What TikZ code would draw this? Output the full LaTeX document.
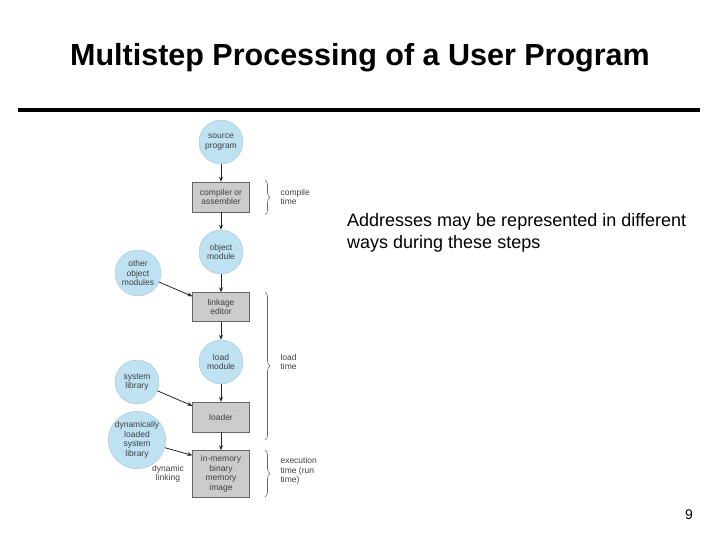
\documentclass[tikz,border=0pt]{standalone}
\usepackage{fontspec}
\setmainfont{Liberation Sans}
\usetikzlibrary{decorations.pathreplacing,arrows.meta,calc}
\definecolor{cblue}{RGB}{190,226,242}
\definecolor{bgray}{RGB}{204,204,204}
\begin{document}
\begin{tikzpicture}[x=1pt,y=-1pt,
 circ/.style={circle,fill=cblue,draw=cblue!70!gray,minimum size=44pt,inner sep=0pt,align=center,font=\fontsize{8.5}{9.5}\selectfont,text=black!75},
 boxn/.style={rectangle,fill=bgray,draw=black!60,minimum width=57pt,align=center,font=\fontsize{8.5}{9.5}\selectfont,text=black!75},
 lbl/.style={align=left,anchor=west,font=\fontsize{8.5}{9.5}\selectfont,text=black!75},
 arr/.style={-{Stealth[length=5pt,width=4pt]},black!85,line width=0.8pt},
 brc/.style={decorate,decoration={brace,amplitude=5pt},black!60,line width=0.6pt}]
\useasboundingbox (0,0) rectangle (720,540);
\node[font=\bfseries\fontsize{30.5}{32}\selectfont] (title) at (360,58) {Multistep Processing of a User Program};
\draw[line width=4pt] (18,110) -- (700,110);
\node[circ] (src) at (221,142) {source\\program};
\node[boxn,minimum height=30pt] (comp) at (221,197) {compiler or\\assembler};
\node[circ] (obj) at (221,252) {object\\module};
\node[circ,minimum size=46pt] (oth) at (138,273) {other\\object\\modules};
\node[boxn,minimum height=29pt] (link) at (221,307) {linkage\\editor};
\node[circ] (lm) at (221,362) {load\\module};
\node[circ] (sys) at (137,382) {system\\library};
\node[boxn,minimum height=30pt] (ld) at (221,417) {loader};
\node[circ,minimum size=50pt] (dyn) at (137,440) {dynamically\\loaded\\system\\library};
\node[boxn,minimum height=47pt] (mem) at (221,474) {in-memory\\binary\\memory\\image};
\node[lbl,align=center,anchor=center] (dl) at (168,474) {dynamic\\linking};
\draw[arr] (src) -- (comp);
\draw[arr] (comp) -- (obj);
\draw[arr] (obj) -- (link);
\draw[arr] (oth) -- ($(link.north west)+(0,4)$);
\draw[arr] (link) -- (lm);
\draw[arr] (lm) -- (ld);
\draw[arr] (sys) -- ($(ld.north west)+(0,4)$);
\draw[arr] (ld) -- (mem);
\draw[arr] (dyn) -- ($(mem.north west)+(0,5)$);
\coordinate (b1a) at (265,180); \coordinate (b1b) at (265,215);
\coordinate (b2a) at (265,292); \coordinate (b2b) at (265,440);
\coordinate (b3a) at (265,450); \coordinate (b3b) at (265,497);
\draw[brc] (b1a) -- (b1b);
\draw[brc] (b2a) -- (b2b);
\draw[brc] (b3a) -- (b3b);
\node[lbl] (ct) at (277,197) {compile\\time};
\node[lbl] (lt) at (277,362) {load\\time};
\node[lbl] (et) at (277,471) {execution\\time (run\\time)};
\node[anchor=north west,align=left,font=\fontsize{18}{22}\selectfont,inner sep=0pt] (addr) at (347,213) {Addresses may be represented in different\\ways during these steps};
\node[font=\fontsize{14}{16}\selectfont] (pg) at (689,515) {9};
\end{tikzpicture}
\end{document}
